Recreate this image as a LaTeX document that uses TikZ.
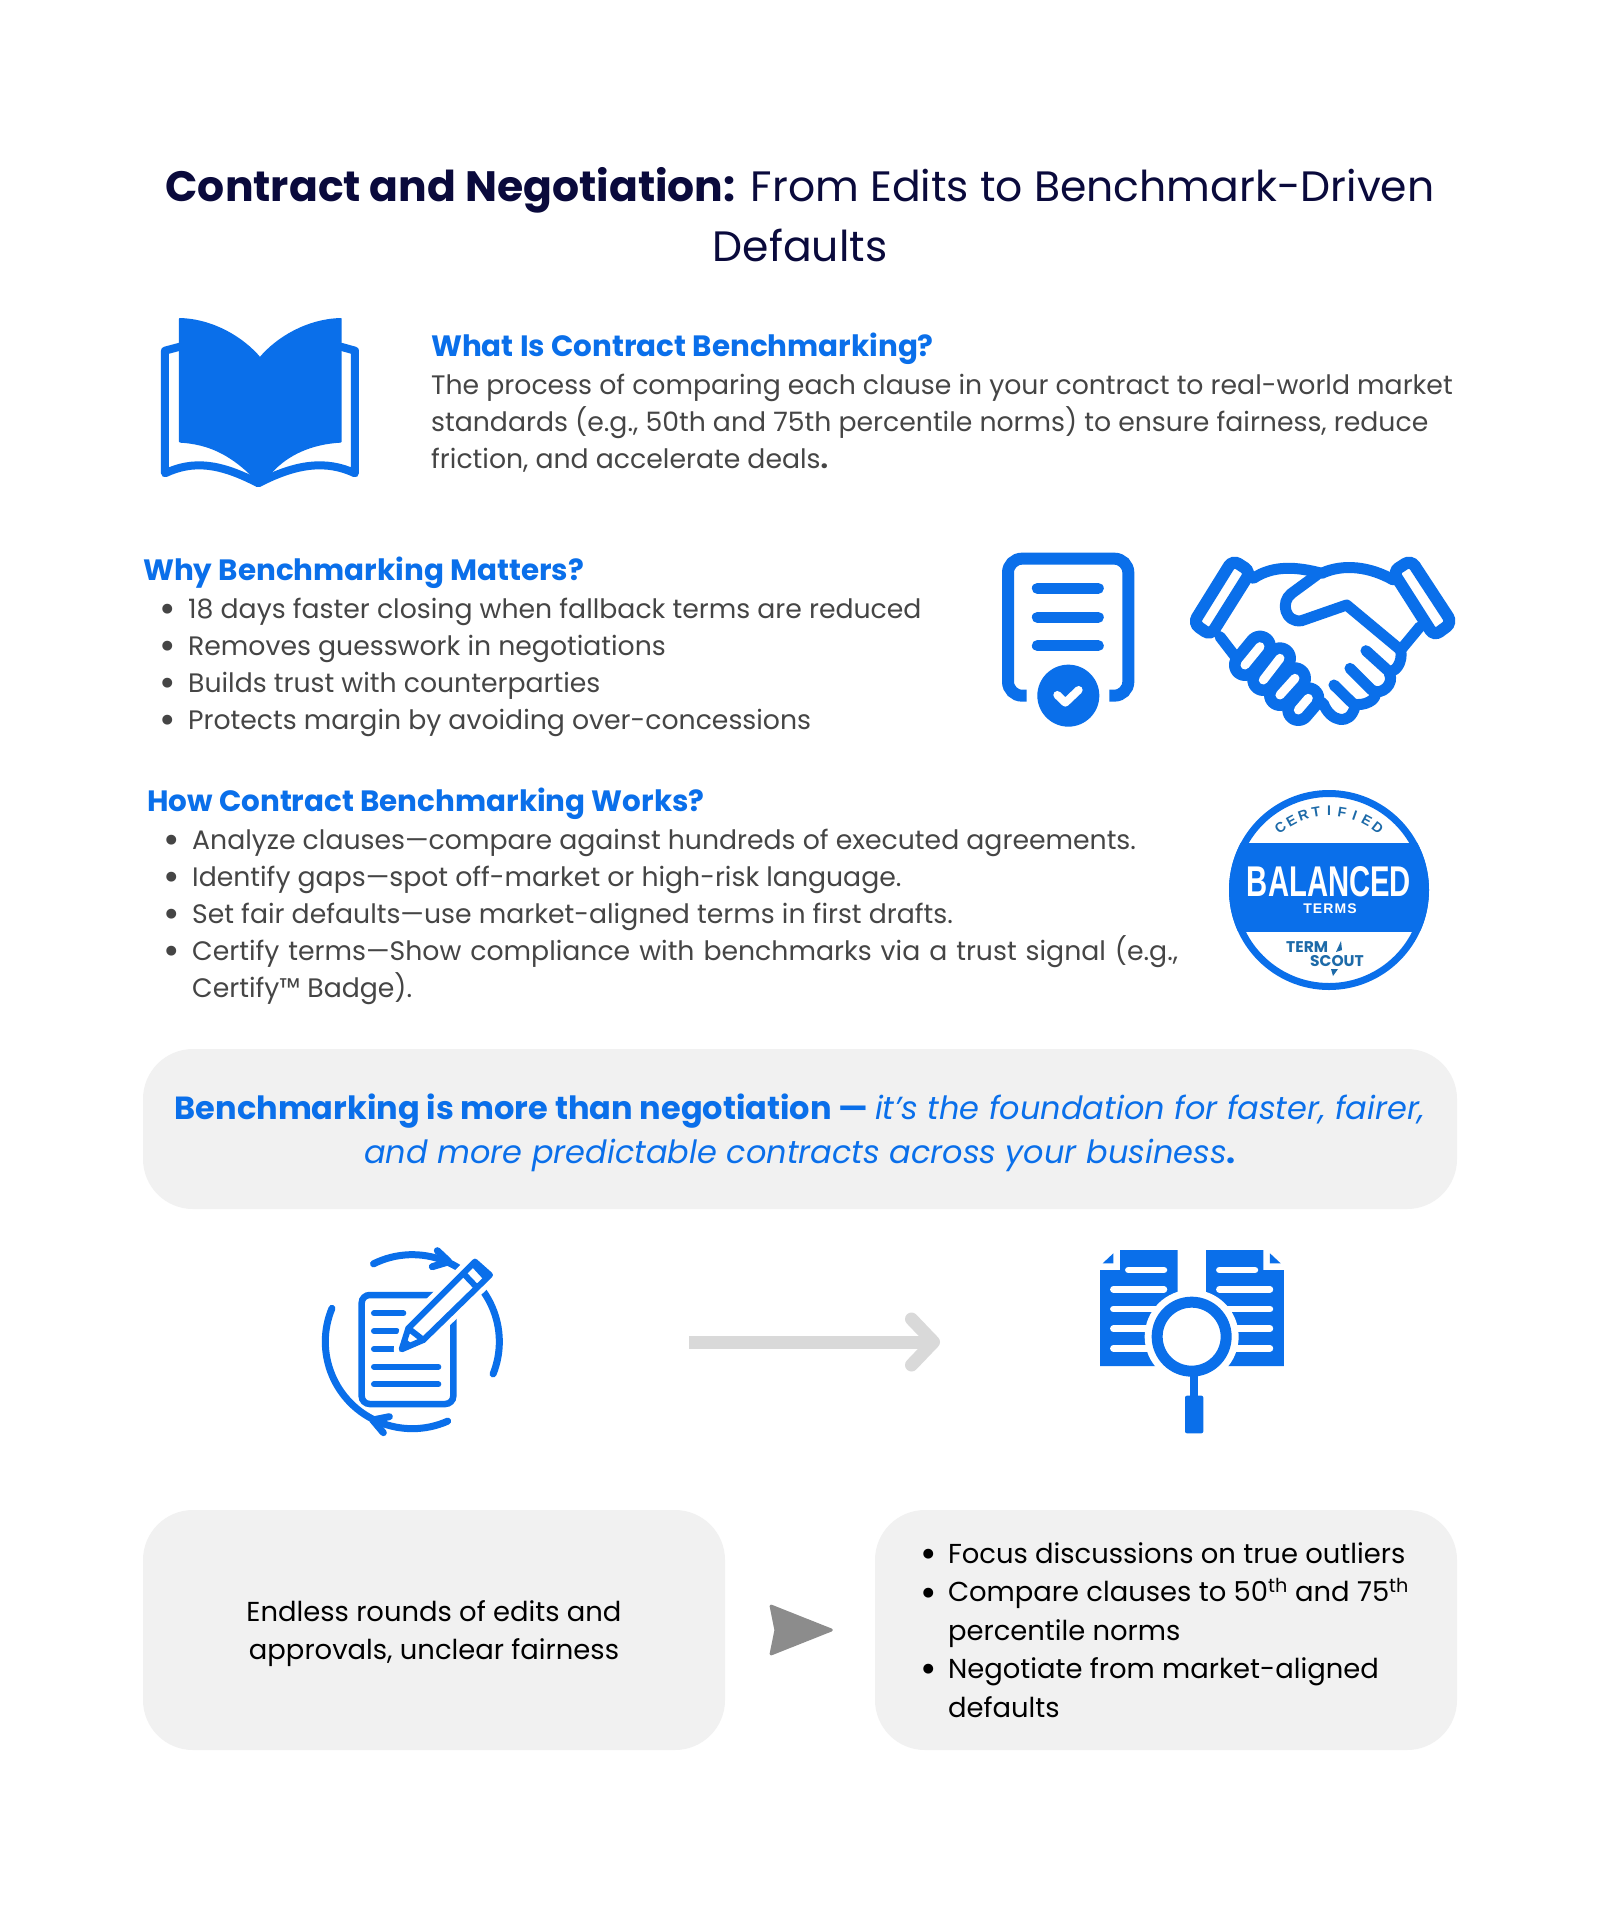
\documentclass[tikz,border=0pt]{standalone}
\usepackage{fontspec}
\setmainfont{Poppins}
\newfontfamily\badgefont[FakeStretch=0.68]{Liberation Sans}
\newfontfamily\logofont{Liberation Sans}
\usetikzlibrary{arrows.meta,positioning}
\definecolor{brandblue}{HTML}{0A6FEA}
\definecolor{titlenavy}{HTML}{0A0A3C}
\definecolor{bodygrey}{HTML}{454545}
\definecolor{panelgrey}{HTML}{F1F1F1}
\definecolor{logoblue}{HTML}{1D6AA8}
\newcommand{\lstitem}[1]{\makebox[#1][l]{\hspace*{-3pt}\raisebox{-0.28ex}{\fontsize{40}{40}\selectfont\textbullet}}}

\begin{document}
\begin{tikzpicture}[
  x=1pt, y=-1pt,
  titletext/.style={
    inner sep=0pt,
    align=center,
    text=titlenavy,
    font=\fontsize{42.5}{60}\selectfont
  },
  headtext/.style={
    inner sep=0pt,
    anchor=base west,
    text=brandblue,
    font=\fontsize{29.4}{37}\selectfont\bfseries
  },
  bodytext/.style={
    inner sep=0pt,
    align=left,
    text=bodygrey,
    font=\fontsize{26.7}{37}\selectfont
  },
  panel/.style={
    fill=panelgrey,
    rounded corners=50pt,
    inner sep=0pt,
    align=center,
    font=\fontsize{27.4}{38.4}\selectfont
  },
  zoomed/.style={shift={(#1)}, x=0.3333pt, y=-0.3333pt},
  iconline/.style={draw=brandblue, line cap=round, line join=round},
  softarrow/.style={
    draw=black!15,
    line width=13pt,
    -{Straight Barb[round, length=22pt, width=46pt]}
  },
  stagearrow/.style={
    draw=black!45,
    line width=1pt,
    shorten <=52pt,
    shorten >=42pt,
    -{Stealth[length=66pt, width=52pt, inset=5pt, round, line width=3pt, fill=black!45]}
  }
]
\useasboundingbox (0,0) rectangle (1600,1920);
\fill[white] (0,0) rectangle (1600,1920);

\node[titletext] (title) at (800,215)
{\textbf{Contract and Negotiation:} From Edits to Benchmark-Driven\\Defaults};

\node[headtext] (whathead) at (431,356) {What Is Contract Benchmarking?};
\node[bodytext, below=9.5pt of whathead.south west, anchor=north west] (whatbody)
{The process of comparing each clause in your contract to real-world market\\
standards (e.g., 50th and 75th percentile norms) to ensure fairness, reduce\\
friction, and accelerate deals\textbf{.}};

\node[headtext] (whyhead) at (143,580) {Why Benchmarking Matters?};
\node[bodytext, below=9.5pt of whyhead.south west, anchor=north west, xshift=19pt] (whybody)
{\lstitem{26pt}18 days faster closing when fallback terms are reduced\\
\lstitem{26pt}Removes guesswork in negotiations\\
\lstitem{26pt}Builds trust with counterparties\\
\lstitem{26pt}Protects margin by avoiding over-concessions};

\node[headtext] (howhead) at (147,811) {How Contract Benchmarking Works?};
\node[bodytext, below=9.5pt of howhead.south west, anchor=north west, xshift=19pt] (howbody)
{\lstitem{26pt}Analyze clauses—compare against hundreds of executed agreements.\\
\lstitem{26pt}Identify gaps—spot off-market or high-risk language.\\
\lstitem{26pt}Set fair defaults—use market-aligned terms in first drafts.\\
\lstitem{26pt}\makebox[986pt][s]{Certify terms—Show compliance with benchmarks via a trust signal (e.g.,}\\
\hspace*{26pt}Certify™ Badge).};

\node[panel, minimum width=1314pt, minimum height=160pt, text=brandblue,
  font=\fontsize{32}{44}\selectfont] (quotepanel) at (800,1129)
{\rule{0pt}{33pt}\textbf{Benchmarking is more than negotiation — }\textit{it’s the foundation for faster, fairer,}\\
\textit{and more predictable contracts across your business}\textbf{.}};

\node[panel, minimum width=582pt, minimum height=240pt] (editspanel) at (434,1630)
{\rule{0pt}{28pt}Endless rounds of edits and\\approvals, unclear fairness};
\node[panel, minimum width=582pt, minimum height=240pt, align=left] (defaultspanel) at (1166,1630)
{\lstitem{25pt}Focus discussions on true outliers\hspace*{3pt}\\
\lstitem{25pt}Compare clauses to 50\textsuperscript{th} and 75\textsuperscript{th}\\
\hspace*{25pt}percentile norms\\
\lstitem{25pt}Negotiate from market-aligned\\
\hspace*{25pt}defaults};

\coordinate (shiftfrom) at (689,1342);
\coordinate (shiftto) at (940,1342);
\draw[softarrow] (shiftfrom) -- (shiftto);
\draw[stagearrow] (editspanel) -- (defaultspanel);

% book
\begin{scope}[zoomed={130,300}]
\draw[iconline, line width=8pt] (150,140) -- (105,152) -- (105,520)
  .. controls (190,480) and (270,490) .. (385,550)
  .. controls (500,490) and (590,480) .. (675,520) -- (675,152) -- (632,140);
\fill[brandblue, draw=brandblue, line width=2pt, line join=round] (150,57)
  .. controls (250,60) and (340,115) .. (390,175)
  .. controls (440,115) and (530,60) .. (632,57) -- (632,425)
  .. controls (540,430) and (470,465) .. (425,515) -- (390,555) -- (355,515)
  .. controls (300,465) and (240,430) .. (150,425) -- cycle;
\end{scope}

% certificate
\begin{scope}[zoomed={980,530}]
\draw[draw=brandblue, line width=12pt, rounded corners=14pt]
  (140,497) -- (84,497) -- (84,86) -- (445,86) -- (445,497) -- (388,497);
\foreach \liney in {175,262,347}
  \draw[iconline, line width=11pt] (172,\liney) -- (355,\liney);
\fill[brandblue] (265,497) circle[radius=31pt];
\draw[white, line width=8pt, line cap=round, line join=round]
  (232,495) -- (256,518) -- (296,480);
\end{scope}

% handshake
\begin{scope}[zoomed={980,530}]
\draw[draw=brandblue, line width=12pt, rounded corners=7pt]
  (758,90) -- (812,125) -- (692,316) -- (640,280) -- cycle;
\draw[draw=brandblue, line width=12pt, rounded corners=7pt]
  (1293,90) -- (1239,125) -- (1362,318) -- (1416,278) -- cycle;
\foreach \ax/\ay/\bx/\by in {795/405/840/350,850/450/900/385,900/495/945/445,955/540/985/505}
  \draw[iconline, line width=32pt] (\ax,\ay) -- (\bx,\by);
\foreach \ax/\ay/\bx/\by in {795/405/840/350,850/450/900/385,900/495/945/445,955/540/985/505}
  \draw[white, line width=9pt, line cap=round] (\ax,\ay) -- (\bx,\by);
\draw[iconline, line width=11pt] (820,145) .. controls (880,105) and (950,110) .. (1025,130);
\draw[iconline, line width=11pt] (1025,130) .. controls (1090,100) and (1170,110) .. (1240,150);
\draw[iconline, line width=11pt] (1010,135) -- (935,190)
  .. controls (900,215) and (915,280) .. (965,272) -- (1100,225) -- (1262,360) -- (1320,290);
\draw[iconline, line width=11pt] (720,320) -- (770,385);
\draw[iconline, line width=11pt] (1158,362) -- (1222,420)
  .. controls (1245,435) and (1270,395) .. (1262,360);
\draw[iconline, line width=11pt] (1110,415) -- (1175,480)
  .. controls (1205,500) and (1245,460) .. (1228,430);
\draw[iconline, line width=11pt] (1062,465) -- (1120,522)
  .. controls (1150,530) and (1195,510) .. (1185,485);
\draw[iconline, line width=11pt] (1030,520) .. controls (1050,575) and (1110,590) .. (1125,530);
\end{scope}

% badge
\begin{scope}
\clip (1329,890) circle[radius=100pt];
\fill[brandblue] (1220,843) rectangle (1440,932);
\end{scope}
\draw[draw=brandblue, line width=7pt] (1329,890) circle[radius=96.5pt];
\node[inner sep=0pt, text=white, font=\fontsize{43}{43}\selectfont\badgefont\bfseries] (balanced) at (1329,882) {BALANCED};
\node[inner sep=0pt, text=white, font=\fontsize{14}{14}\selectfont\logofont\bfseries] (terms) at (1330,909) {\addfontfeature{LetterSpace=8}TERMS};
\foreach \ltr [count=\i] in {C,E,R,T,I,F,I,E,D} {
  \pgfmathsetmacro{\ang}{128-9.5*(\i-1)}
  \node[inner sep=0pt, text=logoblue, rotate=\ang-90, font=\fontsize{14}{14}\selectfont\logofont\bfseries] (cert\i)
    at ([shift={(\ang:79pt)}]1329,890) {\ltr};
}
\node[inner sep=0pt, anchor=base west, text=logoblue, font=\fontsize{15.5}{16}\selectfont\bfseries] (termword) at (1286,952) {TERM};
\node[inner sep=0pt, anchor=base west, text=logoblue, font=\fontsize{15.5}{16}\selectfont\bfseries] (scoutword) at (1310,966) {SCOUT};
\fill[logoblue] (1341,941) -- (1336,952) -- (1342,950) -- cycle;
\fill[logoblue] (1331,969) -- (1338,969) -- (1333,976) -- cycle;

% editing
\begin{scope}[zoomed={300,1230}]
\draw[iconline, line width=7pt] (337,335) ++(157.5:87pt) arc[start angle=157.5, end angle=294, radius=87pt];
\draw[iconline, line width=7pt] (337,335) ++(-21.8:87pt) arc[start angle=-21.8, end angle=116.5, radius=87pt];
\draw[iconline, line width=7pt] (412,62) -- (447,95) -- (397,110);
\draw[iconline, line width=7pt] (268,560) -- (218,570) -- (250,608);
\draw[draw=brandblue, line width=6.5pt, rounded corners=8pt] (185,195) rectangle (460,522);
\foreach \endx/\liney in {310/250,290/303,310/357,415/410,415/463}
  \draw[iconline, line width=6pt] (222,\liney) -- (\endx,\liney);
\filldraw[draw=white, fill=white, line width=16pt, line join=round]
  (305,358) -- (325,295) -- (525,95) -- (570,135) -- (370,330) -- cycle;
\draw[iconline, line width=6pt, fill=white]
  (305,358) -- (325,295) -- (525,95) -- (570,135) -- (370,330) -- cycle;
\draw[iconline, line width=6pt] (490,130) -- (530,172);
\draw[iconline, line width=6pt] (520,102) -- (555,140);
\draw[iconline, line width=6pt] (325,295) -- (370,330);
\fill[brandblue] (305,358) -- (315,325) -- (340,345) -- cycle;
\end{scope}

% document search
\begin{scope}[zoomed={1080,1230}]
\fill[brandblue] (120,60) -- (293,60) -- (293,408) -- (60,408) -- (60,120) -- (120,120) -- cycle;
\fill[brandblue] (378,60) -- (550,60) -- (550,120) -- (612,120) -- (612,408) -- (378,408) -- cycle;
\fill[brandblue] (68,100) -- (100,70) -- (100,100) -- cycle;
\fill[brandblue] (570,70) -- (602,100) -- (570,100) -- cycle;
\draw[white, line width=6.5pt, line cap=round] (145,120) -- (252,120);
\draw[white, line width=6.5pt, line cap=round] (418,120) -- (525,120);
\foreach \liney in {178,237,296,355} {
  \draw[white, line width=6.5pt, line cap=round] (100,\liney) -- (252,\liney);
  \draw[white, line width=6.5pt, line cap=round] (418,\liney) -- (570,\liney);
}
\fill[white] (335,320) circle[radius=47pt];
\fill[brandblue] (330,430) rectangle (355,510);
\fill[brandblue, rounded corners=2pt] (315,497) rectangle (370,610);
\draw[draw=brandblue, line width=11pt] (335,320) circle[radius=34.5pt];
\end{scope}
\end{tikzpicture}
\end{document}
